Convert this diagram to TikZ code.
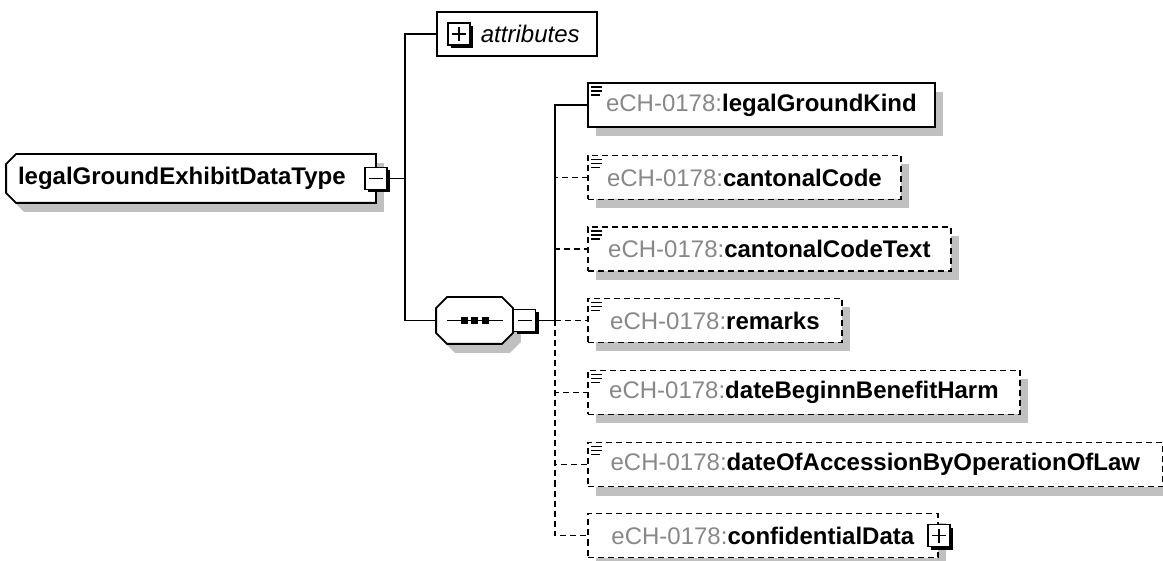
\documentclass[tikz,border=0pt]{standalone}
\usepackage{fontspec}
\setmainfont{Liberation Sans}
\usetikzlibrary{shadows,backgrounds}
\definecolor{shadowgray}{RGB}{192,192,192}
\definecolor{prefixgray}{RGB}{136,136,136}
\newcommand\ech[1]{\textcolor{prefixgray}{eCH-0178:}\textbf{#1}}
% outlines cut at the left corners / at all four corners
\newcommand\leftcut[2]{([xshift=#2]#1.north west) -- (#1.north east) -- (#1.south east) -- ([xshift=#2]#1.south west) -- ([yshift=#2]#1.south west) -- ([yshift=-#2]#1.north west) -- cycle}
\newcommand\bothcut[2]{([xshift=#2]#1.north west) -- ([xshift=-#2]#1.north east) -- ([yshift=-#2]#1.north east) -- ([yshift=#2]#1.south east) -- ([xshift=-#2]#1.south east) -- ([xshift=#2]#1.south west) -- ([yshift=#2]#1.south west) -- ([yshift=-#2]#1.north west) -- cycle}
\begin{document}
\begin{tikzpicture}
  [x=1pt,y=-1pt,line width=1.8pt,
   every node/.style={font=\fontsize{24}{29}\selectfont,inner sep=0pt},
   elem/.style={rectangle,draw,fill=white,anchor=west,minimum height=44pt,
     general shadow={draw=none,fill=shadowgray,shadow xshift=8pt,shadow yshift=-9pt}},
   optline/.style={dash pattern=on 6pt off 4pt},
   optelem/.style={elem,optline},
   outline/.style={draw,fill=white,line width=1.8pt},
   outshadow/.style={fill=shadowgray,transform canvas={xshift=8pt,yshift=-9pt}}]
  \tikzstyle{toggle} = [rectangle,draw,fill=white,minimum size=22pt,line width=1.4pt,
     general shadow={draw=none,fill=black,shadow xshift=3pt,shadow yshift=-3pt}]
  \tikzstyle{minus} = [toggle,path picture={\draw[line width=1.8pt]
     ([xshift=4pt]path picture bounding box.west) -- ([xshift=-4pt]path picture bounding box.east);}]
  \tikzstyle{plus} = [toggle,path picture={\draw[line width=1.8pt]
     ([xshift=4pt]path picture bounding box.west) -- ([xshift=-4pt]path picture bounding box.east)
     ([yshift=-4pt]path picture bounding box.north) -- ([yshift=4pt]path picture bounding box.south);}]
  \useasboundingbox (0,0) rectangle (1163,561);
  \node[text width=346pt,align=left,inner xsep=11pt,minimum height=47pt,font=\fontsize{24}{29}\selectfont\bfseries]
    (root) at (191,178.5) {legalGroundExhibitDataType};
  \node[minimum width=75pt,minimum height=45pt] (seq) at (474.5,320.5) {};
  \begin{scope}[on background layer]
    \path[outshadow] \leftcut{root}{10pt};
    \path[outline] \leftcut{root}{10pt};
    \path[outshadow] \bothcut{seq}{11pt};
    \path[outline] \bothcut{seq}{11pt};
  \end{scope}
  \draw ([xshift=11pt]seq.west) -- ([xshift=-10pt]seq.east);
  \foreach \dx in {-10,0,11}
    \fill ([xshift=\dx pt]seq.center) ++(-3.5,-3.5) rectangle ++(7,7);
  \node[minus] (rm) at (root.east) {};
  \node[minus,anchor=west] (sm) at (seq.east) {};
  \node[rectangle,draw,minimum width=160pt,minimum height=44pt] (attrs) at (517,34) {};
  \node[plus] (ap) at (459,34) {};
  \node[anchor=west] (at) at (480,34) {\itshape attributes};
  \node[elem,minimum width=347pt] (e1) at (587,105) {\ech{legalGroundKind}};
  \node[optelem,minimum width=313pt] (e2) at (587,177.5) {\ech{cantonalCode}};
  \node[optelem,minimum width=363pt] (e3) at (587,249) {\ech{cantonalCodeText}};
  \node[optelem,minimum width=254pt] (e4) at (587,320.5) {\ech{remarks}};
  \node[optelem,minimum width=432pt] (e5) at (587,392.5) {\ech{dateBeginnBenefitHarm}};
  \node[optelem,minimum width=575pt] (e6) at (587,464.5) {\ech{dateOfAccessionByOperationOfLaw}};
  \node[optelem,minimum width=350pt] (e7) at (587,535.5) {\ech{confidentialData}};
  \node[plus] (cp) at (e7.east) {};
  \foreach \e in {e1,e2,e3,e4,e5,e6}
    \draw[line width=1.5pt] ([shift={(4,5)}]\e.north west) -- ++(11,0) ++(-11,4) -- ++(11,0) ++(-11,4) -- ++(9,0);
  \coordinate (rs) at (405,178.5);
  \coordinate (ss) at (555,320.5);
  \draw (rm) -- (rs);
  \draw (attrs.west) -| (rs) |- (seq.west);
  \draw (sm) -- (ss);
  \draw (e1.west) -| (ss);
  \foreach \dest in {e2,e3,e4,e5,e6,e7}
    \draw[optline] (ss) |- (\dest.west);
\end{tikzpicture}
\end{document}
